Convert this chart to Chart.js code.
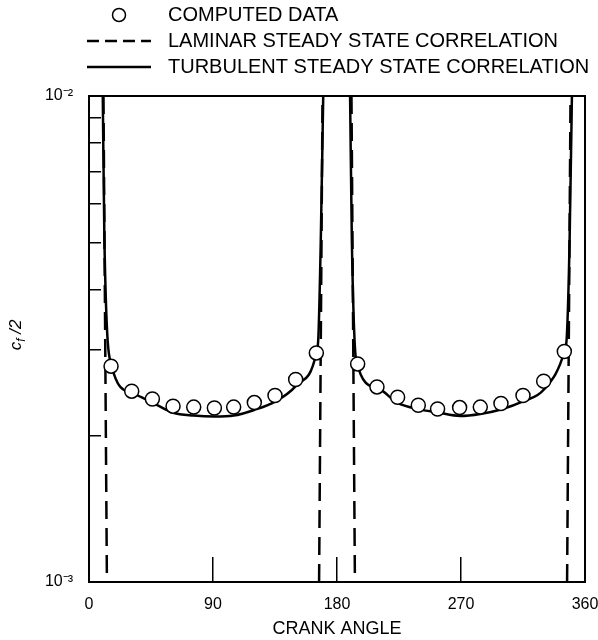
<!DOCTYPE html>
<html>
<head>
<meta charset="utf-8">
<script src="https://cdn.jsdelivr.net/npm/chart.js@4"></script>
<style>
  body { margin: 0; background: #fff; }
  #wrap { width: 598px; height: 640px; }
</style>
</head>
<body>
<div id="wrap"><canvas id="cf"></canvas></div>
<script>
// computed data (circles)
const computedAngle = [16, 31, 46, 61, 76, 91, 105, 120, 135, 150, 165,
                       195, 209, 224, 239, 253, 269, 284, 299, 315, 330, 345];
const computedCf = [2.78e-3, 2.47e-3, 2.38e-3, 2.30e-3, 2.29e-3, 2.28e-3, 2.29e-3, 2.34e-3, 2.42e-3, 2.61e-3, 2.96e-3,
                    2.81e-3, 2.52e-3, 2.40e-3, 2.31e-3, 2.27e-3, 2.285e-3, 2.29e-3, 2.33e-3, 2.42e-3, 2.59e-3, 2.98e-3];

// laminar correlation, null = break in the line
const laminarAngle = [10.5, 13, 90, 167, 169.5, 180, 190.5, 193, 270, 347, 349.5];
const laminarCf = [1e-2, 1e-3, null, 1e-3, 1e-2, null, 1e-2, 1e-3, null, 1e-3, 1e-2];

// turbulent correlation
const turbulentAngle = [10, 11.2, 16.5, 31, 46, 61, 76, 91, 105, 120, 135, 150, 165, 166.5, 168.2, 170,
                        180,
                        189.5, 190.8, 194, 209, 224, 239, 253, 269.5, 284, 299, 315, 330, 345, 346.8, 348.8, 350.5];
const turbulentCf = [1e-2, 5e-3, 2.78e-3, 2.45e-3, 2.34e-3, 2.23e-3, 2.2e-3, 2.19e-3, 2.2e-3, 2.26e-3, 2.35e-3, 2.53e-3, 2.96e-3, 3.2e-3, 5e-3, 1e-2,
                     null,
                     1e-2, 5e-3, 2.85e-3, 2.51e-3, 2.336e-3, 2.268e-3, 2.233e-3, 2.196e-3, 2.217e-3, 2.265e-3, 2.353e-3, 2.486e-3, 2.98e-3, 3.2e-3, 5e-3, 1e-2];

const xTicks = [0, 90, 180, 270, 360];
const yTicks = [0.001, 0.002, 0.003, 0.004, 0.005, 0.006, 0.007, 0.008, 0.009, 0.01];
const yTickLabels = { 0.001: '10\u207B\u00B3', 0.01: '10\u207B\u00B2' };

const legendLabels = ['COMPUTED DATA', 'LAMINAR STEADY STATE CORRELATION', 'TURBULENT STEADY STATE CORRELATION'];

const FONT = '"Liberation Sans", Arial, sans-serif';

function pairs(xs, ys) {
    return xs.map(function (x, i) { return { x: x, y: ys[i] }; });
}

// box round the plot
const frame = {
    id: 'frame',
    afterDatasetsDraw(chart) {
        const c = chart.ctx, a = chart.chartArea;
        c.save();
        c.strokeStyle = '#000';
        c.lineWidth = 2;
        c.strokeRect(a.left, a.top, a.right - a.left, a.bottom - a.top);
        c.restore();
    }
};

// legend list + y title with subscript
const extras = {
    id: 'extras',
    afterDraw(chart) {
        const c = chart.ctx;
        c.save();
        c.fillStyle = '#000';
        c.strokeStyle = '#000';
        c.font = '20px ' + FONT;
        c.textBaseline = 'middle';
        const rows = [15, 41, 67];
        const tx = 168;

        c.beginPath();
        c.lineWidth = 1.5;
        c.arc(119, rows[0], 6.5, 0, Math.PI * 2);
        c.stroke();

        c.lineWidth = 2.5;
        c.setLineDash([12, 6]);
        c.beginPath();
        c.moveTo(87, rows[1]);
        c.lineTo(151, rows[1]);
        c.stroke();
        c.setLineDash([]);
        c.beginPath();
        c.moveTo(87, rows[2]);
        c.lineTo(151, rows[2]);
        c.stroke();

        legendLabels.forEach(function (t, i) { c.fillText(t, tx, rows[i]); });

        // c_f /2
        const a = chart.chartArea;
        c.translate(15, (a.top + a.bottom) / 2 - 4);
        c.rotate(-Math.PI / 2);
        c.textBaseline = 'alphabetic';
        c.font = 'italic 17px ' + FONT;
        const w1 = c.measureText('c').width;
        c.font = 'italic 12px ' + FONT;
        const w2 = c.measureText('f').width;
        c.font = 'italic 17px ' + FONT;
        const w3 = c.measureText(' /2').width;
        let x = -(w1 + w2 + w3) / 2;
        c.fillText('c', x, 6);
        x += w1;
        c.font = 'italic 12px ' + FONT;
        c.fillText('f', x, 10);
        x += w2;
        c.font = 'italic 17px ' + FONT;
        c.fillText(' /2', x, 6);
        c.restore();
    }
};

const ctx = document.getElementById('cf');
new Chart(ctx, {
    type: 'scatter',
    data: {
        datasets: [{
            label: legendLabels[0],
            data: pairs(computedAngle, computedCf),
            pointRadius: 7,
            pointBackgroundColor: '#fff',
            pointBorderColor: '#000',
            pointBorderWidth: 1.5,
            showLine: false,
            order: 0
        }, {
            label: legendLabels[1],
            data: pairs(laminarAngle, laminarCf),
            showLine: true,
            spanGaps: false,
            borderColor: '#000',
            borderWidth: 2.5,
            borderDash: [18, 9],
            pointRadius: 0,
            order: 2
        }, {
            label: legendLabels[2],
            data: pairs(turbulentAngle, turbulentCf),
            showLine: true,
            spanGaps: false,
            borderColor: '#000',
            borderWidth: 2.5,
            cubicInterpolationMode: 'monotone',
            pointRadius: 0,
            order: 1
        }]
    },
    options: {
        responsive: true,
        maintainAspectRatio: false,
        animation: false,
        layout: { padding: { top: 96, right: 13, left: 0, bottom: 0 } },
        plugins: {
            legend: { display: false },
            tooltip: { enabled: false }
        },
        scales: {
            x: {
                type: 'linear',
                min: 0,
                max: 360,
                afterBuildTicks: function (s) { s.ticks = xTicks.map(function (v) { return { value: v }; }); },
                ticks: { color: '#000', font: { family: FONT, size: 16 }, padding: 38, maxRotation: 0, autoSkip: false },
                grid: { drawOnChartArea: false, drawTicks: true, tickLength: -25, color: '#000', lineWidth: 1.5 },
                border: { display: false },
                title: { display: true, text: 'CRANK ANGLE', color: '#000', font: { family: FONT, size: 18 }, padding: 0 },
                afterFit: function (s) {
                    s.height = 58;
                    s.paddingLeft = 0;
                    s.paddingRight = 0;
                }
            },
            y: {
                type: 'logarithmic',
                min: 0.001,
                max: 0.01,
                afterBuildTicks: function (s) { s.ticks = yTicks.map(function (v) { return { value: v }; }); },
                ticks: {
                    color: '#000',
                    font: { family: FONT, size: 16 },
                    padding: 28,
                    autoSkip: false,
                    callback: function (v) { return yTickLabels[v] || ''; }
                },
                grid: { drawOnChartArea: false, drawTicks: true, tickLength: -12, color: '#000', lineWidth: 1.5 },
                border: { display: false },
                afterFit: function (s) {
                    s.width = 89;
                    s.paddingTop = 0;
                    s.paddingBottom = 0;
                }
            }
        }
    },
    plugins: [frame, extras]
});
</script>
</body>
</html>
